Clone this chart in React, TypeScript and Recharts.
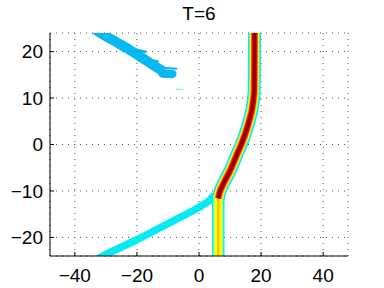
import React from 'react';
import { ComposedChart, Line, XAxis, YAxis, CartesianGrid } from 'recharts';

// Axis ticks
const xTicks = [-40, -20, 0, 20, 40];
const yTicks = [-20, -10, 0, 10, 20];

// Main front: lower vertical part
const lowerStemX = [6.2, 6.2];
const lowerStemY = [-26, -11];

// Main front: upper curved part (ordered top -> bottom)
const upperCurveX = [17.9, 17.8, 17.5, 16.9, 16.1, 15.0, 13.6, 12.0, 10.1, 8.2, 6.8, 6.2];
const upperCurveY = [26, 12, 9.5, 7, 5, 2.5, 0, -2.5, -5.5, -8, -10, -11.6];

// Lower cyan diagonal band
const lowerBandX = [-33, -31, -20, -1.2, 3, 5];
const lowerBandY = [-24.7, -24, -20.5, -14, -12.3, -10.9];

// Upper blue noisy band
const upperBandX = [-34.5, -31.7, -26, -20.5, -15.5, -11.5];
const upperBandY = [25.2, 24, 21.8, 19.6, 17.4, 15.7];
const blobX = [-11.8, -8.6];
const blobY = [15.3, 15.2];
const feather1X = [-26, -21.5];
const feather1Y = [21.7, 21.0];
const feather2X = [-21, -17];
const feather2Y = [20.5, 19.9];
const feather3X = [-17, -13];
const feather3Y = [18.4, 17.8];
const feather4X = [-13.5, -7];
const feather4Y = [16.6, 16.3];
const faintX = [-7.5, -5];
const faintY = [11.9, 11.8];

const pts = (xs: number[], ys: number[]) => xs.map((x, i) => ({ x, y: ys[i] }));

const CYAN = '#06EAF2';
const BLUE = '#08B8F2';

type Layer = { id: string; data: { x: number; y: number }[]; color: string; w: number; type: any; cap?: any };

const layers: Layer[] = [
  { id: 'faint', data: pts(faintX, faintY), color: '#A6E2F4', w: 1.5, type: 'linear' },
  { id: 'ub', data: pts(upperBandX, upperBandY), color: BLUE, w: 10, type: 'monotoneX' },
  { id: 'blob', data: pts(blobX, blobY), color: BLUE, w: 8.5, type: 'linear', cap: 'round' },
  { id: 'f1', data: pts(feather1X, feather1Y), color: BLUE, w: 2, type: 'linear' },
  { id: 'f2', data: pts(feather2X, feather2Y), color: BLUE, w: 2.5, type: 'linear' },
  { id: 'f3', data: pts(feather3X, feather3Y), color: BLUE, w: 2.5, type: 'linear' },
  { id: 'f4', data: pts(feather4X, feather4Y), color: BLUE, w: 2, type: 'linear' },
  { id: 'lb', data: pts(lowerBandX, lowerBandY), color: CYAN, w: 7.5, type: 'linear' },
  { id: 'ls1', data: pts(lowerStemX, lowerStemY), color: CYAN, w: 12.5, type: 'linear' },
  { id: 'uc1', data: pts(upperCurveX, upperCurveY), color: CYAN, w: 13, type: 'monotoneY' },
  { id: 'ls2', data: pts(lowerStemX, lowerStemY), color: '#8CFF9A', w: 10, type: 'linear' },
  { id: 'uc2', data: pts(upperCurveX, upperCurveY), color: '#A8FF70', w: 10, type: 'monotoneY' },
  { id: 'ls3', data: pts(lowerStemX, lowerStemY), color: '#FFFF00', w: 7.5, type: 'linear' },
  { id: 'uc3', data: pts(upperCurveX, upperCurveY), color: '#FFF000', w: 8.5, type: 'monotoneY' },
  { id: 'ls4', data: pts(lowerStemX, lowerStemY), color: '#FFC000', w: 2.5, type: 'linear' },
  { id: 'uc4', data: pts(upperCurveX, upperCurveY), color: '#FF8000', w: 7, type: 'monotoneY' },
  { id: 'uc5', data: pts(upperCurveX, upperCurveY), color: '#F00000', w: 5.5, type: 'monotoneY' },
  { id: 'uc6', data: pts(upperCurveX, upperCurveY), color: '#8C0000', w: 3, type: 'monotoneY' },
];

const FONT = '"Liberation Sans", Arial, Helvetica, sans-serif';
const FS = 19;
const fmt = (v: number) => (v < 0 ? '\u2212' + Math.abs(v) : String(v));

const XTick = (p: any) => (
  <text x={p.x} y={p.y} dy="0.72em" textAnchor="middle" fontSize={FS} fontFamily={FONT} fill="#000">
    {fmt(p.payload.value)}
  </text>
);
const YTick = (p: any) => (
  <text x={p.x} y={p.y} dy="0.36em" textAnchor="end" fontSize={FS} fontFamily={FONT} fill="#000">
    {fmt(p.payload.value)}
  </text>
);
const NoTick = () => <g />;

export default function App() {
  return (
    <div style={{ position: 'absolute', left: 0, top: 0, width: 384, height: 288, background: '#fff', fontFamily: FONT }}>
      <div
        style={{
          position: 'absolute',
          left: 50,
          width: 298,
          top: 4,
          lineHeight: '19px',
          fontSize: FS,
          textAlign: 'center',
          color: '#000',
        }}
      >
        T=6
      </div>
      <ComposedChart width={384} height={288} margin={{ top: 33, right: 36, bottom: 0, left: 0 }}>
        <CartesianGrid stroke="#555" strokeDasharray="1 5" />
        <XAxis
          type="number"
          dataKey="x"
          domain={[-48, 48]}
          ticks={xTicks}
          allowDataOverflow
          height={32}
          tickSize={-4}
          tickMargin={16}
          tick={<XTick />}
          axisLine={{ stroke: '#000' }}
          tickLine={{ stroke: '#000' }}
        />
        <XAxis
          xAxisId="top"
          type="number"
          dataKey="x"
          orientation="top"
          mirror
          domain={[-48, 48]}
          ticks={xTicks}
          allowDataOverflow
          height={0}
          tickSize={4}
          tick={<NoTick />}
          axisLine={{ stroke: '#000' }}
          tickLine={{ stroke: '#000' }}
        />
        <YAxis
          type="number"
          domain={[-24, 24]}
          ticks={yTicks}
          allowDataOverflow
          width={50}
          tickSize={-4}
          tickMargin={11}
          tick={<YTick />}
          axisLine={{ stroke: '#000' }}
          tickLine={{ stroke: '#000' }}
        />
        <YAxis
          yAxisId="right"
          type="number"
          orientation="right"
          mirror
          domain={[-24, 24]}
          ticks={yTicks}
          allowDataOverflow
          width={0}
          tickSize={4}
          tick={<NoTick />}
          axisLine={{ stroke: '#000' }}
          tickLine={{ stroke: '#000' }}
        />
        {layers.map((l) => (
          <Line
            key={l.id}
            data={l.data}
            dataKey="y"
            type={l.type}
            stroke={l.color}
            strokeWidth={l.w}
            strokeLinecap={l.cap || 'butt'}
            strokeLinejoin="round"
            dot={false}
            activeDot={false}
            isAnimationActive={false}
          />
        ))}
      </ComposedChart>
    </div>
  );
}
